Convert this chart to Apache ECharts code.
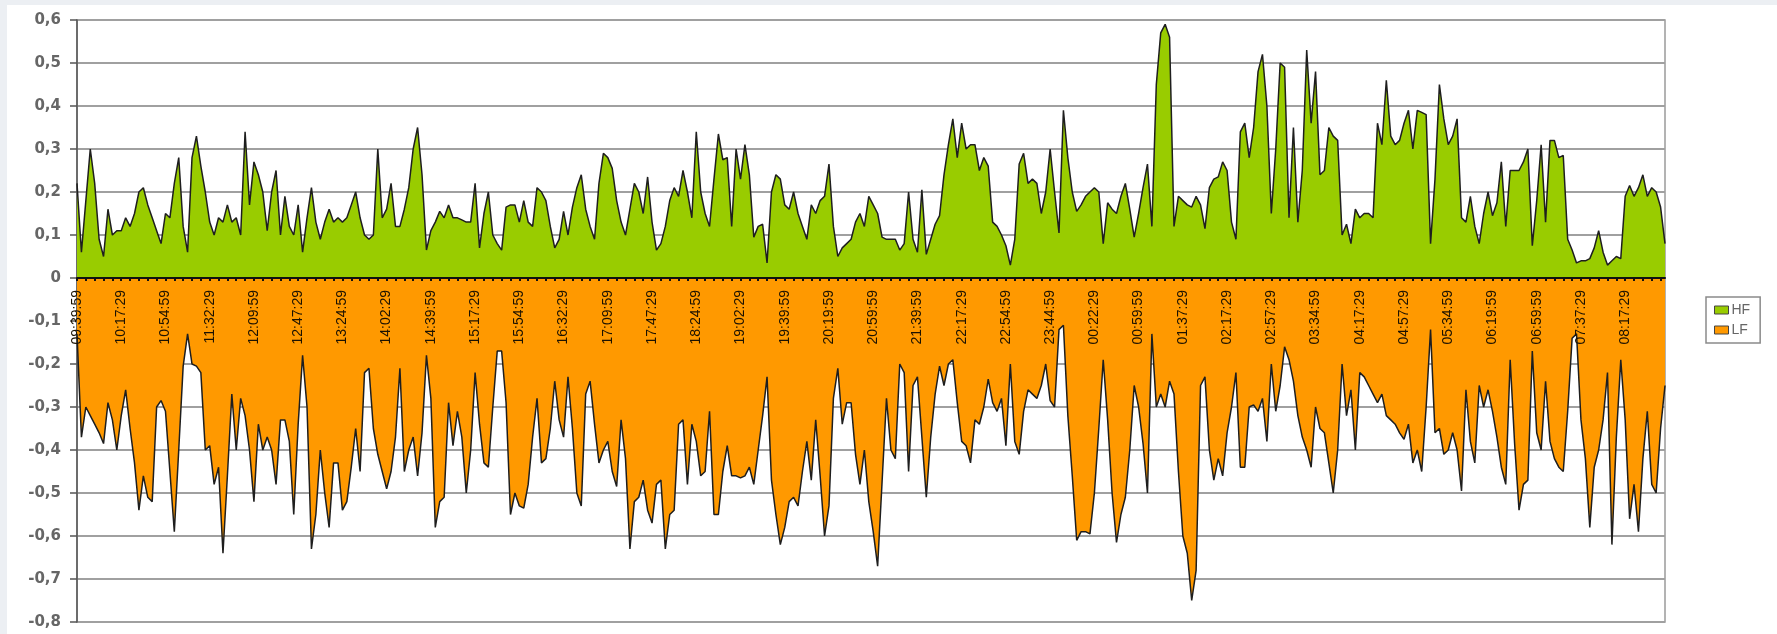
<!DOCTYPE html>
<html>
<head>
<meta charset="utf-8">
<script src="https://cdn.jsdelivr.net/npm/echarts@6/dist/echarts.min.js"></script>
<style>
  html, body { margin: 0; padding: 0; background: #eceff3; }
  #chart { position: absolute; left: 7px; top: 5px; width: 1770px; height: 629px; background: #fff; }
</style>
</head>
<body>
<div id="chart"></div>
<script>
// tick labels on the time axis, one every 10 samples
const tickLabels = ['09:39:59', '10:17:29', '10:54:59', '11:32:29', '12:09:59', '12:47:29', '13:24:59', '14:02:29',
  '14:39:59', '15:17:29', '15:54:59', '16:32:29', '17:09:59', '17:47:29', '18:24:59', '19:02:29', '19:39:59',
  '20:19:59', '20:59:59', '21:39:59', '22:17:29', '22:54:59', '23:44:59', '00:22:29', '00:59:59', '01:37:29',
  '02:17:29', '02:57:29', '03:34:59', '04:17:29', '04:57:29', '05:34:59', '06:19:59', '06:59:59', '07:37:29', '08:17:29']
const samplesPerLabel = 10

const hf = [
  0.22, 0.06, 0.18, 0.30, 0.22, 0.09, 0.05, 0.16, 0.10, 0.11,
  0.11, 0.14, 0.12, 0.15, 0.20, 0.21, 0.17, 0.14, 0.11, 0.08,
  0.15, 0.14, 0.22, 0.28, 0.12, 0.06, 0.28, 0.33, 0.26, 0.20,
  0.13, 0.10, 0.14, 0.13, 0.17, 0.13, 0.14, 0.10, 0.34, 0.17,
  0.27, 0.24, 0.20, 0.11, 0.20, 0.25, 0.10, 0.19, 0.12, 0.10,
  0.17, 0.06, 0.14, 0.21, 0.13, 0.09, 0.13, 0.16, 0.13, 0.14,
  0.13, 0.14, 0.17, 0.20, 0.14, 0.10, 0.09, 0.10, 0.30, 0.14,
  0.16, 0.22, 0.12, 0.12, 0.16, 0.21, 0.30, 0.35, 0.24, 0.065,
  0.11, 0.13, 0.155, 0.14, 0.17, 0.14, 0.14, 0.135, 0.13, 0.13,
  0.22, 0.07, 0.15, 0.20, 0.10, 0.08, 0.065, 0.165, 0.17, 0.17,
  0.13, 0.18, 0.13, 0.12, 0.21, 0.20, 0.18, 0.12, 0.07, 0.09,
  0.155, 0.10, 0.165, 0.21, 0.24, 0.16, 0.12, 0.09, 0.22, 0.29,
  0.28, 0.255, 0.18, 0.13, 0.10, 0.16, 0.22, 0.20, 0.15, 0.235,
  0.13, 0.065, 0.08, 0.12, 0.18, 0.21, 0.19, 0.25, 0.20, 0.14,
  0.34, 0.20, 0.15, 0.12, 0.23, 0.335, 0.275, 0.28, 0.12, 0.30,
  0.23, 0.31, 0.24, 0.095, 0.12, 0.125, 0.035, 0.20, 0.24, 0.23,
  0.17, 0.16, 0.20, 0.15, 0.12, 0.09, 0.17, 0.15, 0.18, 0.19,
  0.265, 0.12, 0.05, 0.07, 0.08, 0.09, 0.13, 0.15, 0.12, 0.19,
  0.17, 0.15, 0.095, 0.09, 0.09, 0.09, 0.065, 0.08, 0.20, 0.09,
  0.06, 0.205, 0.055, 0.09, 0.125, 0.145, 0.24, 0.31, 0.37, 0.28,
  0.36, 0.30, 0.31, 0.31, 0.25, 0.28, 0.26, 0.13, 0.12, 0.10,
  0.075, 0.03, 0.09, 0.265, 0.29, 0.22, 0.23, 0.22, 0.15, 0.20,
  0.30, 0.20, 0.105, 0.39, 0.28, 0.20, 0.155, 0.17, 0.19, 0.20,
  0.21, 0.20, 0.08, 0.175, 0.16, 0.15, 0.19, 0.22, 0.16, 0.095,
  0.15, 0.21, 0.265, 0.12, 0.45, 0.57, 0.59, 0.56, 0.12, 0.19,
  0.18, 0.17, 0.165, 0.19, 0.17, 0.115, 0.21, 0.23, 0.235, 0.27,
  0.25, 0.13, 0.09, 0.34, 0.36, 0.28, 0.35, 0.48, 0.52, 0.40,
  0.15, 0.30, 0.50, 0.49, 0.14, 0.35, 0.13, 0.25, 0.53, 0.36,
  0.48, 0.24, 0.25, 0.35, 0.33, 0.32, 0.10, 0.125, 0.08, 0.16,
  0.14, 0.15, 0.15, 0.14, 0.36, 0.31, 0.46, 0.33, 0.31, 0.32,
  0.36, 0.39, 0.30, 0.39, 0.385, 0.38, 0.08, 0.23, 0.45, 0.37,
  0.31, 0.33, 0.37, 0.14, 0.13, 0.19, 0.12, 0.08, 0.15, 0.20,
  0.145, 0.175, 0.27, 0.12, 0.25, 0.25, 0.25, 0.27, 0.30, 0.075,
  0.18, 0.31, 0.13, 0.32, 0.32, 0.28, 0.285, 0.09, 0.065, 0.035,
  0.04, 0.04, 0.045, 0.07, 0.11, 0.06, 0.03, 0.04, 0.05, 0.045,
  0.19, 0.215, 0.19, 0.21, 0.24, 0.19, 0.21, 0.20, 0.165, 0.08
]

const lf = [
  -0.13, -0.37, -0.30, -0.32, -0.34, -0.36, -0.385, -0.29, -0.33, -0.40,
  -0.32, -0.26, -0.35, -0.43, -0.54, -0.46, -0.51, -0.52, -0.30, -0.285,
  -0.31, -0.45, -0.59, -0.40, -0.205, -0.13, -0.20, -0.205, -0.22, -0.40,
  -0.39, -0.48, -0.44, -0.64, -0.46, -0.27, -0.40, -0.28, -0.32, -0.40,
  -0.52, -0.34, -0.40, -0.37, -0.40, -0.48, -0.33, -0.33, -0.38, -0.55,
  -0.34, -0.18, -0.30, -0.63, -0.55, -0.40, -0.50, -0.58, -0.43, -0.43,
  -0.54, -0.52, -0.44, -0.35, -0.45, -0.22, -0.21, -0.35, -0.41, -0.45,
  -0.49, -0.45, -0.37, -0.21, -0.45, -0.40, -0.37, -0.46, -0.36, -0.18,
  -0.28, -0.58, -0.52, -0.51, -0.29, -0.39, -0.31, -0.37, -0.50, -0.40,
  -0.22, -0.34, -0.43, -0.44, -0.30, -0.17, -0.17, -0.29, -0.55, -0.50,
  -0.53, -0.535, -0.48, -0.37, -0.28, -0.43, -0.42, -0.35, -0.24, -0.33,
  -0.37, -0.23, -0.35, -0.50, -0.53, -0.27, -0.24, -0.34, -0.43, -0.40,
  -0.38, -0.45, -0.485, -0.33, -0.42, -0.63, -0.52, -0.51, -0.47, -0.54,
  -0.57, -0.48, -0.47, -0.63, -0.55, -0.54, -0.34, -0.33, -0.48, -0.34,
  -0.38, -0.46, -0.45, -0.31, -0.55, -0.55, -0.45, -0.39, -0.46, -0.46,
  -0.465, -0.46, -0.44, -0.48, -0.40, -0.32, -0.23, -0.47, -0.55, -0.62,
  -0.58, -0.52, -0.51, -0.53, -0.45, -0.38, -0.47, -0.33, -0.46, -0.60,
  -0.53, -0.28, -0.21, -0.34, -0.29, -0.29, -0.41, -0.48, -0.40, -0.52,
  -0.59, -0.67, -0.475, -0.28, -0.40, -0.42, -0.20, -0.22, -0.45, -0.25,
  -0.23, -0.37, -0.51, -0.37, -0.27, -0.205, -0.25, -0.20, -0.19, -0.29,
  -0.38, -0.39, -0.43, -0.33, -0.34, -0.30, -0.235, -0.29, -0.31, -0.28,
  -0.39, -0.20, -0.38, -0.41, -0.31, -0.26, -0.27, -0.28, -0.25, -0.20,
  -0.285, -0.30, -0.12, -0.11, -0.32, -0.46, -0.61, -0.59, -0.59, -0.595,
  -0.50, -0.35, -0.19, -0.33, -0.50, -0.615, -0.55, -0.51, -0.40, -0.25,
  -0.30, -0.385, -0.50, -0.13, -0.30, -0.27, -0.30, -0.24, -0.27, -0.45,
  -0.60, -0.64, -0.75, -0.68, -0.25, -0.23, -0.40, -0.47, -0.42, -0.46,
  -0.36, -0.30, -0.22, -0.44, -0.44, -0.30, -0.295, -0.31, -0.28, -0.38,
  -0.20, -0.31, -0.25, -0.16, -0.19, -0.24, -0.32, -0.37, -0.40, -0.44,
  -0.30, -0.35, -0.36, -0.43, -0.50, -0.40, -0.20, -0.32, -0.26, -0.40,
  -0.22, -0.23, -0.25, -0.27, -0.29, -0.27, -0.32, -0.33, -0.34, -0.36,
  -0.375, -0.34, -0.43, -0.40, -0.45, -0.30, -0.12, -0.36, -0.35, -0.41,
  -0.40, -0.36, -0.40, -0.495, -0.26, -0.38, -0.43, -0.25, -0.30, -0.26,
  -0.31, -0.37, -0.44, -0.48, -0.19, -0.385, -0.54, -0.48, -0.47, -0.17,
  -0.36, -0.40, -0.24, -0.38, -0.42, -0.44, -0.45, -0.31, -0.14, -0.13,
  -0.33, -0.42, -0.58, -0.44, -0.40, -0.33, -0.22, -0.62, -0.37, -0.19,
  -0.33, -0.56, -0.48, -0.59, -0.42, -0.31, -0.48, -0.50, -0.35, -0.25
]

const yMin = -0.8
const yMax = 0.6

// one category per sample; only the first of each group of 10 carries a shown label
const categories = []
tickLabels.forEach(label => {
  for (let j = 0; j < samplesPerLabel; j++) {
    categories.push(j === 0 ? label : label + '+' + j)
  }
})

const chartHeight = 629
const gridTop = 15
const gridBottom = 12
// the time axis sits on the zero line, lifted up from the bottom of the plot
const plotHeight = chartHeight - gridTop - gridBottom
const zeroLift = plotHeight * (0 - yMin) / (yMax - yMin)

const chart = echarts.init(document.getElementById('chart'))

const option = {
  animation: false,
  grid: {
    left: 70,
    right: 112,
    top: gridTop,
    bottom: gridBottom,
    show: true,
    borderColor: '#9a9a9a',
    borderWidth: 1.5
  },
  legend: {
    data: ['HF', 'LF'],
    orient: 'vertical',
    left: 1699,
    top: 292,
    padding: [6, 10, 6, 8],
    itemGap: 6,
    itemWidth: 14,
    itemHeight: 8,
    icon: 'rect',
    borderColor: '#8a8a8a',
    borderWidth: 1.5,
    itemStyle: { borderColor: '#444', borderWidth: 1 },
    textStyle: { color: '#666', fontSize: 14, fontFamily: 'Liberation Sans', padding: [0, 0, 0, -2] }
  },
  xAxis: {
    type: 'category',
    data: categories,
    boundaryGap: false,
    position: 'bottom',
    offset: -zeroLift,
    z: 10,
    axisLine: { onZero: false, lineStyle: { color: '#111', width: 2 } },
    axisTick: { interval: 1, length: 3, lineStyle: { color: '#111', width: 2 } },
    axisLabel: {
      interval: samplesPerLabel - 1,
      rotate: 90,
      margin: 12,
      color: '#1c1200',
      fontSize: 14,
      fontFamily: 'Liberation Sans'
    },
    splitLine: { show: false }
  },
  yAxis: {
    type: 'value',
    min: yMin,
    max: yMax,
    interval: 0.1,
    axisLine: { show: true, lineStyle: { color: '#555', width: 1.5 } },
    axisTick: { show: true, length: 7, lineStyle: { color: '#555', width: 1.5 } },
    axisLabel: {
      margin: 16,
      color: '#666',
      fontSize: 15,
      fontWeight: 'bold',
      fontFamily: 'DejaVu Sans',
      formatter: v => Math.abs(v) < 1e-9 ? '0' : v.toFixed(1).replace('.', ',')
    },
    splitLine: { lineStyle: { color: '#a0a0a0', width: 2 } }
  },
  series: [
    {
      name: 'HF',
      type: 'line',
      data: hf,
      showSymbol: false,
      itemStyle: { color: '#99cc00' },
      lineStyle: { color: '#1e1e1e', width: 1.5 },
      areaStyle: { color: '#99cc00', opacity: 1 }
    },
    {
      name: 'LF',
      type: 'line',
      data: lf,
      showSymbol: false,
      itemStyle: { color: '#ff9900' },
      lineStyle: { color: '#1e1e1e', width: 1.5 },
      areaStyle: { color: '#ff9900', opacity: 1 }
    }
  ]
}

chart.setOption(option)
</script>
</body>
</html>
